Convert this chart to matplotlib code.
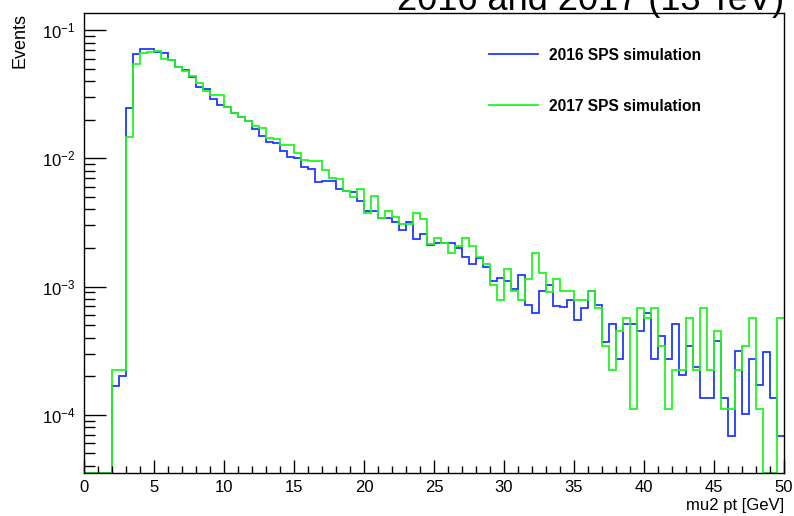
import numpy as np
import matplotlib
matplotlib.use("Agg")
import matplotlib.pyplot as plt
from matplotlib.ticker import MultipleLocator, LogLocator, NullFormatter, LogFormatterSciNotation
from matplotlib.lines import Line2D

plt.rcParams["font.family"] = ["Liberation Sans", "DejaVu Sans"]
plt.rcParams["mathtext.fontset"] = "custom"
plt.rcParams["mathtext.rm"] = "Liberation Sans"
plt.rcParams["mathtext.it"] = "Liberation Sans:italic"
plt.rcParams["mathtext.bf"] = "Liberation Sans:bold"

# ---- data: mu2 pt histograms, 100 bins of 0.5 GeV from 0 to 50 ----
x_min, x_max, n_bins = 0.0, 50.0, 100

events_2016 = [
    0, 0, 0, 0, 1.69e-4, 2.02e-4, 0.0247, 0.0646, 0.0710, 0.0710,
    0.0679, 0.0661, 0.0582, 0.0511, 0.0486, 0.0431, 0.0360, 0.0349, 0.0292, 0.0259,
    0.0251, 0.0227, 0.0209, 0.0195, 0.0170, 0.0148, 0.0133, 0.0132, 0.0114, 0.0102,
    0.00998, 0.00861, 0.00822, 0.00657, 0.00668, 0.00665, 0.00579, 0.00558, 0.00542, 0.00467,
    0.00389, 0.00389, 0.00345, 0.00345, 0.00316, 0.00275, 0.00321, 0.00234, 0.00259, 0.00211,
    0.00220, 0.00220, 0.00220, 0.00201, 0.00170, 0.00151, 0.00168, 0.00142, 0.00110, 0.00117,
    0.00110, 0.000966, 0.00124, 0.000724, 0.000622, 0.000920, 0.00103, 0.000703, 0.000690, 0.000792,
    0.000552, 0.000681, 0.000931, 0.000724, 0.000373, 0.000514, 0.000273, 0.000514, 0.000514, 0.000448,
    0.000622, 0.000273, 0.000409, 0.000273, 0.000514, 0.000205, 0.000341, 0.000238, 0.000136, 0.000136,
    0.000378, 0.000136, 0.0000686, 0.000312, 0.000101, 0.000273, 0.000171, 0.000308, 0.000136, 0.0000686,
]

events_2017 = [
    0, 0, 0, 0, 2.24e-4, 2.24e-4, 0.0146, 0.0539, 0.0657, 0.0669,
    0.0685, 0.0593, 0.0582, 0.0511, 0.0477, 0.0439, 0.0389, 0.0333, 0.0314, 0.0310,
    0.0251, 0.0227, 0.0209, 0.0197, 0.0180, 0.0173, 0.0145, 0.0142, 0.0127, 0.0126,
    0.0111, 0.00968, 0.00954, 0.00958, 0.00811, 0.00697, 0.00690, 0.00558, 0.00501, 0.00576,
    0.00378, 0.00511, 0.00345, 0.00385, 0.00350, 0.00310, 0.00310, 0.00378, 0.00335, 0.00216,
    0.00241, 0.00220, 0.00184, 0.00207, 0.00241, 0.00207, 0.00170, 0.00151, 0.00103, 0.000792,
    0.00136, 0.000931, 0.000792, 0.00114, 0.00184, 0.00128, 0.000909, 0.00114, 0.000931, 0.000931,
    0.000792, 0.000792, 0.000931, 0.000681, 0.000341, 0.000224, 0.000453, 0.000569, 0.000112, 0.000681,
    0.000569, 0.000681, 0.000341, 0.000112, 0.000224, 0.000224, 0.000569, 0.000224, 0.000681, 0.000224,
    0.000453, 0.000112, 0.000112, 0.000224, 0.000341, 0.000569, 0.000112, 0, 0, 0.000569,
]

labels = ["2016 SPS simulation", "2017 SPS simulation"]
colors = ["#1f3cff", "#22f522"]
x_ticks = [0, 5, 10, 15, 20, 25, 30, 35, 40, 45, 50]
title = "2016 and 2017 (13 TeV)"
x_title = "mu2 pt [GeV]"
y_title = "Events"

# ---- figure ----
W, H = 794, 516
fig = plt.figure(figsize=(W / 100, H / 100), dpi=100)
ax = fig.add_axes([84 / W, 1 - 473.3 / H, 700 / W, 460.6 / H])

ymin, ymax = 3.5e-5, 0.1366
edges = np.linspace(x_min, x_max, n_bins + 1)
for vals, c in zip([events_2016, events_2017], colors):
    v = np.maximum(np.asarray(vals, dtype=float), ymin)
    ax.stairs(v, edges, baseline=None, color=c, lw=1.3)

ax.set_yscale("log")
ax.set_xlim(x_min, x_max)
ax.set_ylim(ymin, ymax)

ax.set_xticks(x_ticks)
ax.xaxis.set_minor_locator(MultipleLocator(1))
ax.yaxis.set_major_locator(LogLocator(base=10, numticks=10))
ax.yaxis.set_minor_locator(LogLocator(base=10, subs=np.arange(2, 10), numticks=20))
ax.yaxis.set_minor_formatter(NullFormatter())
ax.yaxis.set_major_formatter(LogFormatterSciNotation())

ax.tick_params(axis="x", which="major", direction="in", length=9.6, width=1.0,
               labelsize=12, pad=5, top=False, colors="black")
ax.tick_params(axis="x", which="minor", direction="in", length=4.8, width=1.0, top=False)
ax.tick_params(axis="y", which="major", direction="in", length=15.8, width=1.0,
               labelsize=12, pad=6, right=False)
ax.tick_params(axis="y", which="minor", direction="in", length=7.9, width=1.0, right=False)
for s in ax.spines.values():
    s.set_linewidth(1.0)

# axis titles (ROOT style: aligned to the axis end)
ax.set_xlabel(x_title, fontsize=12, ha="right", x=1.0, labelpad=2)
ax.set_ylabel(y_title, fontsize=13, ha="right", y=1.0, labelpad=10)

# legend (no frame)
handles = [Line2D([], [], color=c, lw=1.3) for c in colors]
ax.legend(handles, labels, loc="upper left", bbox_to_anchor=(0.5786, 0.924),
          frameon=False, prop={"weight": "bold", "size": 11.2},
          handlelength=3.15, handletextpad=0.71, labelspacing=2.32,
          borderpad=0, borderaxespad=0)

# title, partially cut off at the top like the reference
fig.text(784 / W, 1 - 10 / H, title, ha="right", va="baseline", fontsize=26)

fig.savefig("out.png", dpi=100)
